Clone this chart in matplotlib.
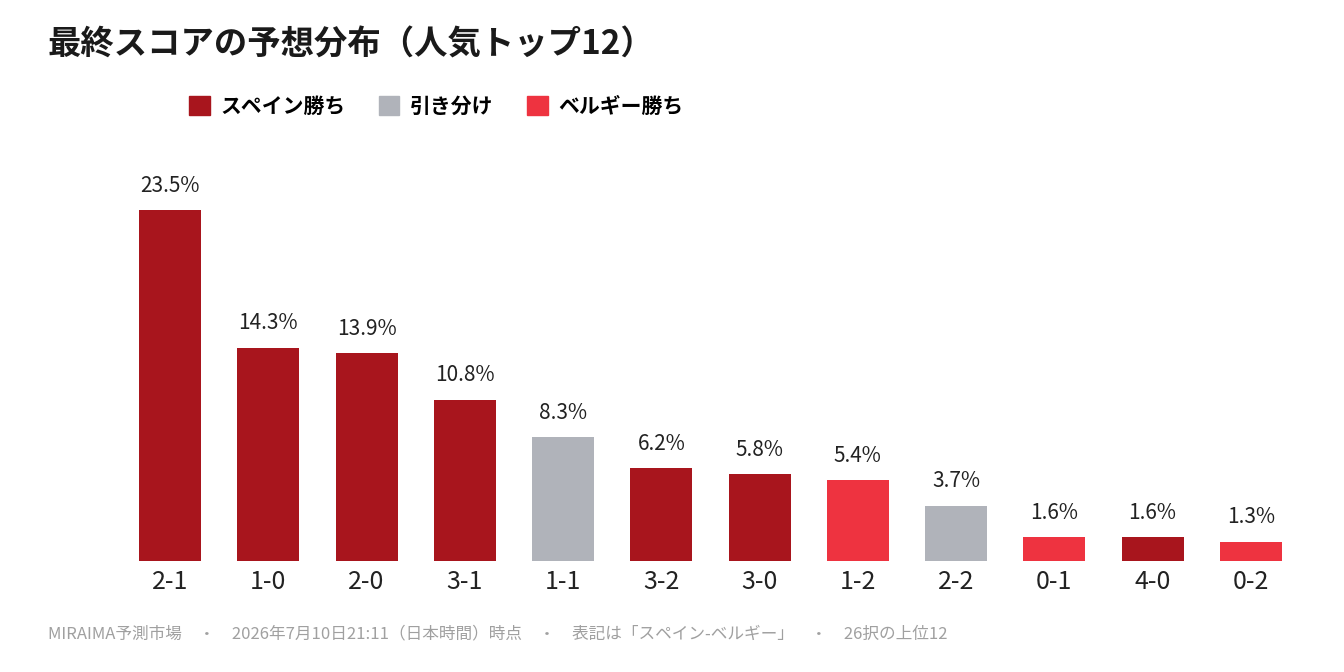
import matplotlib.pyplot as plt
from matplotlib.patches import Patch

plt.rcParams['font.family'] = ['Noto Sans CJK JP', 'DejaVu Sans']

scores = ['2-1', '1-0', '2-0', '3-1', '1-1', '3-2', '3-0', '1-2', '2-2', '0-1', '4-0', '0-2']
probs = [23.5, 14.3, 13.9, 10.8, 8.3, 6.2, 5.8, 5.4, 3.7, 1.6, 1.6, 1.3]
outcome = ['spain', 'spain', 'spain', 'spain', 'draw', 'spain', 'spain', 'belgium', 'draw', 'belgium', 'spain', 'belgium']

colors = {'spain': '#A8151D', 'draw': '#B0B3BA', 'belgium': '#EE3340'}
labels = {'spain': 'スペイン勝ち', 'draw': '引き分け', 'belgium': 'ベルギー勝ち'}

W, H = 1344, 672
fig = plt.figure(figsize=(W / 100, H / 100), dpi=100)
ax = fig.add_axes([121 / W, (H - 561) / H, (1300 - 121) / W, 421 / H])

x = range(len(scores))
ax.bar(x, probs, width=0.63, color=[colors[o] for o in outcome])
for i, p in enumerate(probs):
    ax.text(i, p + 0.9, f'{p}%', ha='center', va='bottom', fontsize=15, color='#222222')

ax.set_xlim(-0.5, len(scores) - 0.5)
ax.set_ylim(0, 28.2)
ax.set_xticks(list(x))
ax.set_xticklabels(scores, fontsize=18, color='#222222')
ax.tick_params(axis='x', length=0, pad=6)
ax.set_yticks([])
for s in ax.spines.values():
    s.set_visible(False)

fig.text(48 / W, 1 - 45 / H, '最終スコアの予想分布（人気トップ12）', fontsize=24, fontweight='bold',
         va='center', ha='left', color='#1a1a1a')

handles = [Patch(color=colors[k], label=labels[k]) for k in ['spain', 'draw', 'belgium']]
fig.legend(handles=handles, loc='center left', bbox_to_anchor=(170 / W, 1 - 106 / H), ncol=3,
           frameon=False, fontsize=15, handlelength=1.0, handleheight=1.0, handletextpad=0.5,
           columnspacing=1.6, prop={'weight': 'bold', 'size': 15})

fig.text(48 / W, 1 - 634 / H,
         'MIRAIMA予測市場　・　2026年7月10日21:11（日本時間）時点　・　表記は「スペイン-ベルギー」　・　26択の上位12',
         fontsize=12, color='#A0A0A0', va='center', ha='left')

fig.savefig('out.png', dpi=100, facecolor='white')
